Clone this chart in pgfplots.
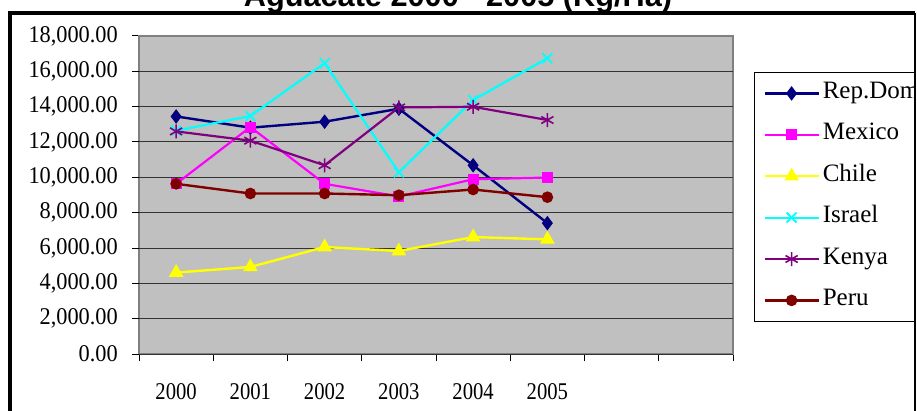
\documentclass[border=0pt]{standalone}
\usepackage{fontspec}
\setmainfont{Liberation Serif}
\newfontfamily\xtfont{Liberation Serif}[FakeStretch=0.86]
\newfontfamily\ytfont{Liberation Serif}[FakeStretch=0.93]
\newfontfamily\titlefont{Liberation Sans}
\usepackage{pgfplots}
\pgfplotsset{compat=1.18}
\definecolor{plotbg}{HTML}{C0C0C0}
\definecolor{cNavy}{HTML}{000080}
\definecolor{cMag}{HTML}{FF00FF}
\definecolor{cYel}{HTML}{FFFF00}
\definecolor{cCyan}{HTML}{00FFFF}
\definecolor{cPurp}{HTML}{800080}
\definecolor{cMaroon}{HTML}{800000}
\begin{document}
\begin{tikzpicture}[x=1pt,y=1pt]
\useasboundingbox (0,0) rectangle (917,410);
\clip (0,0) rectangle (917,410);
\begin{axis}[
  at={(139pt,56pt)}, anchor=south west, scale only axis,
  width=594pt, height=318pt,
  xmin=-0.5, xmax=7.5, ymin=0, ymax=18000,
  xtick={-0.5,0.5,1.5,2.5,3.5,4.5,5.5,6.5,7.5},
  x tick label as interval,
  xticklabels={2000,2001,2002,2003,2004,2005,{},{}},
  ytick={0,2000,4000,6000,8000,10000,12000,14000,16000,18000},
  yticklabels={{0.00},{2,000.00},{4,000.00},{6,000.00},{8,000.00},{10,000.00},{12,000.00},{14,000.00},{16,000.00},{18,000.00}},
  extra y ticks={0,2000,4000,6000,8000,10000,12000,14000,16000},
  extra y tick labels={},
  extra y tick style={grid=major, major grid style={black!80, line width=1pt}},
  tick pos=left,
  tick align=outside, major tick length=7pt,
  tick style={black, line width=1pt},
  axis line style={draw=black!50, line width=1.2pt},
  axis background/.style={fill=plotbg},
  xticklabel style={font=\xtfont\fontsize{24}{28}\selectfont, inner sep=0pt, yshift=-22pt},
  yticklabel style={font=\ytfont\fontsize{24}{28}\selectfont, inner sep=0pt, xshift=-14pt},
  scaled y ticks=false,
  legend style={at={(1,1)}, anchor=north west, xshift=21pt, yshift=-36pt,
    draw=black, line width=0.8pt, fill=white, inner xsep=9pt, inner ysep=10pt,
    row sep=19.4pt, font=\fontsize{25}{29}\selectfont,
    nodes={inner xsep=3pt, inner ysep=0pt, text height=16pt, text depth=6pt}},
  legend cell align=left,
  legend image code/.code={\draw[mark repeat=2,mark phase=2,#1] plot coordinates {(0pt,0pt) (27pt,0pt) (54pt,0pt)};},
]
\addplot[color=cNavy, line width=2.4pt, mark=diamond*, mark size=6.5pt, mark options={solid, line width=1pt}]
  coordinates {(0,13447) (1,12810) (2,13148) (3,13882) (4,10682) (5,7409)};
\addlegendentry{Rep.Dom}
\addplot[color=cMag, line width=2.2pt, mark=square*, mark size=5pt, mark options={solid, line width=1pt}]
  coordinates {(0,9633) (1,12849) (2,9633) (3,8916) (4,9892) (5,9988)};
\addlegendentry{Mexico}
\addplot[color=cYel, line width=2.4pt, mark=triangle*, mark size=7.5pt, mark options={solid, line width=1pt}]
  coordinates {(0,4610) (1,4926) (2,6055) (3,5829) (4,6619) (5,6489)};
\addlegendentry{Chile}
\addplot[color=cCyan, line width=2.2pt, mark=x, mark size=7pt, mark options={solid, line width=1.8pt}]
  coordinates {(0,12640) (1,13470) (2,16461) (3,10287) (4,14373) (5,16743)};
\addlegendentry{Israel}
\addplot[color=cPurp, line width=2.2pt, mark=asterisk, mark size=7pt, mark options={solid, line width=1.6pt}]
  coordinates {(0,12601) (1,12076) (2,10682) (3,13955) (4,13995) (5,13244)};
\addlegendentry{Kenya}
\addplot[color=cMaroon, line width=2.4pt, mark=*, mark size=5.3pt, mark options={solid, line width=1pt}]
  coordinates {(0,9633) (1,9085) (2,9085) (3,8989) (4,9311) (5,8876)};
\addlegendentry{Peru}
\end{axis}
\node[font=\titlefont\bfseries\fontsize{30.7}{36}\selectfont, anchor=base] at (458,403) {Aguacate 2000 - 2005 (Kg/Ha)};
\fill[white] (915.5,-2) rectangle (918,412);
\draw[line width=3.5pt] (10,-5) -- (10,397) -- (915,397);
\draw[line width=1.5pt] (915,397) -- (915,-5);
\end{tikzpicture}
\end{document}
